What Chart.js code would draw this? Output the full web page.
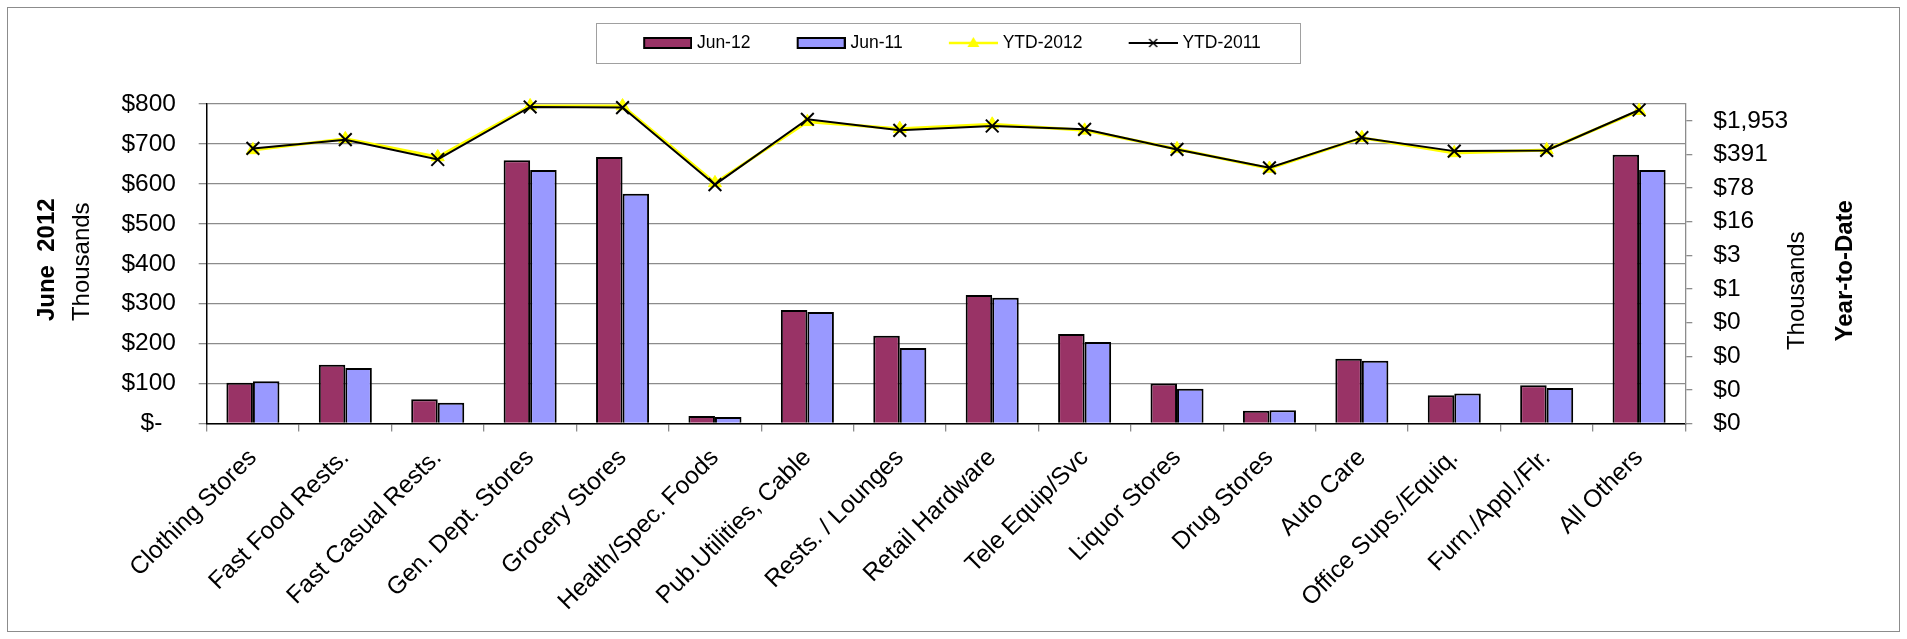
<!DOCTYPE html>
<html><head><meta charset="utf-8">
<script src="https://cdn.jsdelivr.net/npm/chart.js@4.4.1/dist/chart.umd.min.js"></script>
<style>html,body{margin:0;padding:0;background:#fff;} canvas{display:block;}</style>
</head><body>
<canvas id="c" width="1907" height="639" style="width:1907px;height:639px"></canvas>
<script>
// ---- data (thousands of dollars) ----
const categories = ['Clothing Stores','Fast Food Rests.','Fast Casual Rests.','Gen. Dept. Stores','Grocery Stores','Health/Spec. Foods','Pub.Utilities, Cable','Rests. / Lounges','Retail Hardware','Tele Equip/Svc','Liquor Stores','Drug Stores','Auto Care','Office Sups./Equiq.','Furn./Appl./Flr.','All Others'];
const jun12 = [102, 147, 61, 659, 667, 19, 284, 220, 322, 224, 100, 32, 162, 71, 96, 673];
const jun11 = [106, 139, 52, 635, 575, 16, 279, 189, 315, 204, 87, 33, 157, 75, 89, 635];
const ytd2012 = [485, 823, 346, 3980, 3960, 100, 1861, 1342, 1652, 1237, 509, 199, 865, 420, 485, 3160];
const ytd2011 = [521, 792, 307, 3791, 3682, 92, 2100, 1237, 1522, 1298, 497, 206, 872, 458, 473, 3280];
const seriesLabels = ['Jun-12', 'Jun-11', 'YTD-2012', 'YTD-2011'];
const leftTickLabels = ['$-  ', '$100', '$200', '$300', '$400', '$500', '$600', '$700', '$800'];
const ytdTickLabels = ['$0', '$0', '$0', '$0', '$1', '$3', '$16', '$78', '$391', '$1,953'];
const leftTitle = ['June  2012', 'Thousands'];
const rightTitle = ['Thousands', 'Year-to-Date'];

// ---- styling ----
const FONT = '"Liberation Sans", Arial, sans-serif';
const C12 = '#993366', C11 = '#9999FF', YEL = '#FFFF00', GRID = '#8c8c8c';
const TICK_FS = 24.5, TITLE_FS = 24;
const YTD_BASE = 5;
const ytdTickValues = ytdTickLabels.map((_, k) => Math.pow(YTD_BASE, k) / 1000);
const ytdMax = Math.pow(YTD_BASE, 9.5) / 1000;

Chart.defaults.font.family = FONT;
Chart.defaults.color = '#000';

function makeSwatch(kind) {
  const c = document.createElement('canvas');
  c.width = 65; c.height = 18;
  const g = c.getContext('2d');
  const x0 = 16, x1 = 65, cy = 9;
  if (kind === 0 || kind === 1) {
    g.fillStyle = kind === 0 ? C12 : C11;
    g.fillRect(x0 + 1, cy - 5, x1 - x0 - 2, 10);
    g.strokeStyle = '#000'; g.lineWidth = 2;
    g.strokeRect(x0 + 1, cy - 5, x1 - x0 - 2, 10);
  } else {
    const col = kind === 2 ? YEL : '#000';
    g.strokeStyle = col; g.lineWidth = kind === 2 ? 2.5 : 2;
    g.beginPath(); g.moveTo(x0, cy); g.lineTo(x1, cy); g.stroke();
    const mx = (x0 + x1) / 2;
    if (kind === 2) {
      g.fillStyle = col;
      g.beginPath(); g.moveTo(mx, cy - 6); g.lineTo(mx + 6, cy + 4); g.lineTo(mx - 6, cy + 4); g.closePath(); g.fill();
    } else {
      g.lineWidth = 1.5;
      g.beginPath(); g.moveTo(mx - 4, cy - 4); g.lineTo(mx + 4, cy + 4); g.moveTo(mx + 4, cy - 4); g.lineTo(mx - 4, cy + 4); g.stroke();
    }
  }
  return c;
}
const swatches = [0, 1, 2, 3].map(makeSwatch);

const framePlugin = {
  id: 'frame',
  beforeDraw(chart) {
    const g = chart.ctx;
    g.save();
    g.fillStyle = '#fff'; g.fillRect(0, 0, chart.width, chart.height);
    g.strokeStyle = '#8c8c8c'; g.lineWidth = 1;
    g.strokeRect(7.5, 7.5, chart.width - 15, chart.height - 15);
    g.restore();
  },
  afterDraw(chart) {
    const g = chart.ctx, a = chart.chartArea;
    const lg = chart.legend, hb = lg.legendHitBoxes;
    g.save();
    // legend border
    if (hb && hb.length) {
      const l = hb[0].left - 35, r = hb[hb.length - 1].left + hb[hb.length - 1].width + 39;
      g.strokeStyle = '#a0a0a0'; g.lineWidth = 1;
      g.strokeRect(Math.round(l) + 0.5, 23.5, Math.round(r - l), 40);
    }
    // axis titles
    const cyL = (a.top + a.bottom) / 2;
    function vtext(txt, x, y, bold) {
      g.save();
      g.translate(x, y); g.rotate(-Math.PI / 2);
      g.font = (bold ? 'bold ' : '') + TITLE_FS + 'px ' + FONT;
      g.fillStyle = '#000'; g.textAlign = 'center'; g.textBaseline = 'middle';
      g.fillText(txt, 0, 0);
      g.restore();
    }
    vtext(leftTitle[0], 47, cyL - 4, true);
    vtext(leftTitle[1], 82, cyL - 2, false);
    vtext(rightTitle[0], 1797, cyL + 27, false);
    vtext(rightTitle[1], 1845, cyL + 7, true);
    g.restore();
  }
};

const legendFitPlugin = {
  id: 'legendFit',
  afterInit(chart) {
    const lg = chart.legend;
    const orig = lg.fit;
    lg.fit = function () { orig.call(this); this.height = 104; };
  }
};

new Chart(document.getElementById('c'), {
  type: 'bar',
  data: {
    labels: categories,
    datasets: [
      { label: seriesLabels[0], data: jun12, backgroundColor: C12, borderColor: '#000', borderWidth: 2, yAxisID: 'y', order: 2, categoryPercentage: 0.574, barPercentage: 1 },
      { label: seriesLabels[1], data: jun11, backgroundColor: C11, borderColor: '#000', borderWidth: 2, yAxisID: 'y', order: 3, categoryPercentage: 0.574, barPercentage: 1 },
      { type: 'line', label: seriesLabels[2], data: ytd2012, borderColor: YEL, backgroundColor: YEL, borderWidth: 3, tension: 0,
        pointStyle: 'triangle', pointRadius: 7.5, pointHoverRadius: 7.5, pointBackgroundColor: YEL, pointBorderColor: YEL, pointBorderWidth: 1,
        yAxisID: 'y2', order: 1, clip: false },
      { type: 'line', label: seriesLabels[3], data: ytd2011, borderColor: '#000', backgroundColor: '#000', borderWidth: 2, tension: 0,
        pointStyle: 'crossRot', pointRadius: 9, pointHoverRadius: 9, pointBorderColor: '#000', pointBorderWidth: 2,
        yAxisID: 'y2', order: 0, clip: false }
    ]
  },
  options: {
    responsive: false,
    animation: false,
    devicePixelRatio: 1,
    layout: { padding: 0 },
    plugins: {
      tooltip: { enabled: false },
      legend: {
        position: 'top',
        fullSize: false,
        labels: {
          usePointStyle: true, pointStyleWidth: 57, padding: 34.25,
          font: { size: 17.5, family: FONT }, color: '#000',
          generateLabels(chart) {
            return chart.data.datasets.map((ds, i) => ({
              text: ds.label, pointStyle: swatches[i], datasetIndex: i, hidden: false,
              lineWidth: 0, strokeStyle: 'rgba(0,0,0,0)', fillStyle: 'rgba(0,0,0,0)', fontColor: '#000'
            }));
          }
        }
      }
    },
    scales: {
      x: {
        offset: true,
        grid: { drawOnChartArea: false, drawTicks: true, color: GRID, tickColor: GRID, tickLength: 8, lineWidth: 1.3 },
        border: { color: '#000', width: 1.5 },
        ticks: { autoSkip: false, minRotation: 45, maxRotation: 45, padding: 12, font: { size: TICK_FS }, color: '#000' },
        afterFit(s) { s.height = 215.5; }
      },
      y: {
        position: 'left', min: 0, max: 800,
        ticks: { stepSize: 100, padding: 22.7, font: { size: TICK_FS }, color: '#000', callback: (v, i) => leftTickLabels[i] },
        grid: { color: GRID, tickColor: GRID, lineWidth: 1.3, tickLength: 8 },
        border: { color: '#000', width: 1.5 },
        afterFit(s) { s.width = 206.7; }
      },
      y2: {
        type: 'logarithmic', position: 'right', min: ytdTickValues[0], max: ytdMax,
        afterBuildTicks(s) { s.ticks = ytdTickValues.map(v => ({ value: v })); },
        ticks: { padding: 21, font: { size: TICK_FS }, color: '#000', callback: (v, i) => ytdTickLabels[i] },
        grid: { drawOnChartArea: false, color: GRID, tickColor: GRID, tickLength: 7, lineWidth: 1.3 },
        border: { color: GRID, width: 1.3 },
        afterFit(s) { s.width = 1907 - 1685.3; }
      }
    }
  },
  plugins: [legendFitPlugin, framePlugin]
});
</script>
</body></html>
